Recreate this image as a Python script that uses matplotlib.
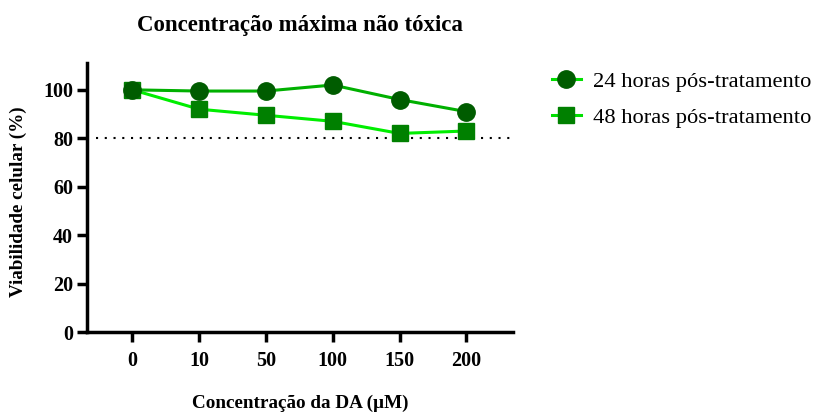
import matplotlib
matplotlib.use("Agg")
import matplotlib.pyplot as plt
from matplotlib.lines import Line2D
import numpy as np

concentrations = ["0", "10", "50", "100", "150", "200"]
viab_24h = [100, 99.5, 99.5, 102, 96, 91]
err_24h = [0.5, 0.5, 1.5, 1.8, 0.8, 0.5]
viab_48h = [100, 92, 89.5, 87, 82, 83]
err_48h = [0.5, 0.5, 0.5, 0.5, 0.5, 0.5]
threshold = 80

plt.rcParams["font.family"] = ["Liberation Serif", "DejaVu Serif"]

fig = plt.figure(figsize=(8.17, 4.13), dpi=100)
ax = fig.add_axes([0.1065, 0.196, 0.5215, 0.651])

x = np.arange(len(concentrations))

ax.plot([-0.55, 5.65], [threshold, threshold], linestyle=(0, (1, 3.2)), color="black", lw=1.5, zorder=1)

style_24 = dict(color="#00b000", lw=2.2, marker="o", ms=12.5, mfc="#005c00", mec="#005c00")
style_48 = dict(color="#00ee00", lw=2.2, marker="s", ms=12, mfc="#008000", mec="#008000")

ax.errorbar(x, viab_24h, yerr=err_24h, ecolor="#005c00", elinewidth=1.5, capsize=5,
            zorder=3, **style_24)
ax.errorbar(x, viab_48h, yerr=err_48h, ecolor="#008000", elinewidth=1.5, capsize=5,
            zorder=2, **style_48)

ax.set_xlim(-0.68, 5.7)
ax.set_ylim(0, 111)
ax.set_xticks(x)
ax.set_xticklabels(concentrations)
ax.set_yticks([0, 20, 40, 60, 80, 100])

for side in ["top", "right"]:
    ax.spines[side].set_visible(False)
for side in ["left", "bottom"]:
    ax.spines[side].set_linewidth(2.5)
ax.tick_params(axis="both", width=2.5, length=7, labelsize=14.5, pad=3)
for lab in ax.get_xticklabels() + ax.get_yticklabels():
    lab.set_fontweight("bold")
ax.tick_params(axis="x", pad=7)

fig.text(18 / 817, 1 - 202 / 413, "Viabilidade celular (%)", fontsize=13.8, fontweight="bold",
         rotation=90, ha="center", va="center")
fig.text(0.367, 1 - 403 / 413, "Concentração da DA (µM)", fontsize=13.8, fontweight="bold",
         ha="center", va="center")
fig.text(0.367, 1 - 25 / 413, "Concentração máxima não tóxica", fontsize=16.5,
         fontweight="bold", ha="center", va="center")

legend_24 = dict(style_24, color="#00e000")
legend_48 = dict(style_48, color="#00e000")
handles = [Line2D([], [], **legend_24), Line2D([], [], **legend_48)]
labels = ["24 horas pós-tratamento", "48 horas pós-tratamento"]
fig.legend(handles, labels, loc="upper left", bbox_to_anchor=(536 / 817, 1 - 55 / 413),
           frameon=False, fontsize=16.2, handlelength=1.3, labelspacing=0.68,
           handletextpad=0.55, borderpad=0.2)

fig.savefig("out.png", dpi=100)
